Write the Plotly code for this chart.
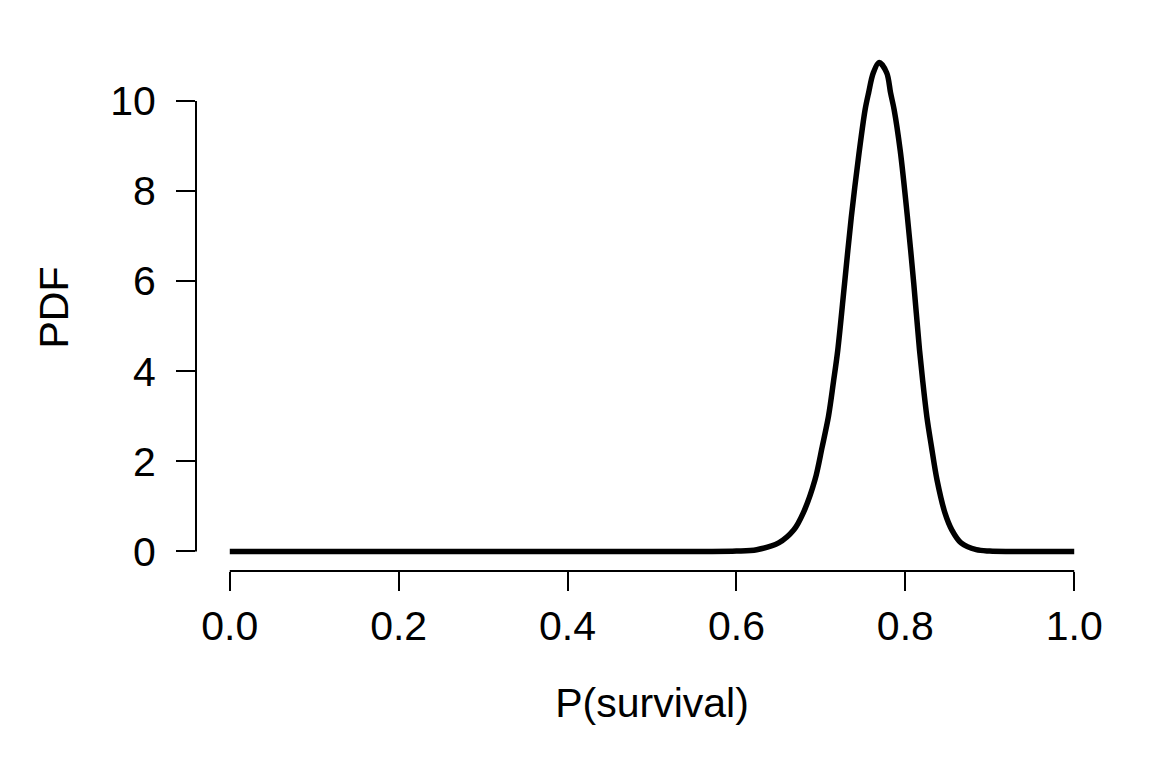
import plotly.graph_objects as go

# points
p_survival = [0.0, 0.2, 0.4, 0.5, 0.57, 0.60, 0.624, 0.650, 0.668, 0.679, 0.693, 0.7015, 0.709,
              0.715, 0.720, 0.728, 0.736, 0.7455, 0.7524, 0.7565, 0.762, 0.769,
              0.778, 0.7825, 0.7867, 0.794, 0.8025, 0.810, 0.8168, 0.8205, 0.8255,
              0.831, 0.8375, 0.847, 0.855, 0.866, 0.884, 0.90, 0.92, 0.96, 1.0]
pdf = [0.0, 0.0, 0.0, 0.0, 0.0, 0.01, 0.04, 0.19, 0.48, 0.85, 1.59, 2.32, 3.00,
       3.78, 4.47, 5.94, 7.42, 8.89, 9.81, 10.18, 10.62, 10.85,
       10.62, 10.18, 9.81, 8.89, 7.42, 5.94, 4.47, 3.80, 2.99,
       2.32, 1.59, 0.85, 0.48, 0.19, 0.04, 0.01, 0.0, 0.0, 0.0]

x_ticks = [0.0, 0.2, 0.4, 0.6, 0.8, 1.0]
x_labels = ["0.0", "0.2", "0.4", "0.6", "0.8", "1.0"]
y_ticks = [0, 2, 4, 6, 8, 10]

font = dict(family="Liberation Sans, Arial, sans-serif", size=41, color="black")

fig = go.Figure()
fig.add_trace(go.Scatter(x=p_survival, y=pdf, mode="lines",
                         line=dict(color="black", width=5.5, shape="spline", smoothing=0.9),
                         showlegend=False, hoverinfo="skip"))

# R style axes: line only across the tick range
fig.add_shape(type="line", xref="x", yref="paper", x0=x_ticks[0], x1=x_ticks[-1], y0=0, y1=0,
              line=dict(color="black", width=2))
fig.add_shape(type="line", xref="paper", yref="y", x0=0, x1=0, y0=y_ticks[0], y1=y_ticks[-1],
              line=dict(color="black", width=2))

fig.update_layout(
    width=1152, height=768, autosize=False,
    margin=dict(l=188, r=52, t=36, b=205),
    paper_bgcolor="white", plot_bgcolor="white",
    font=font,
    xaxis=dict(range=[-0.04, 1.04], tickvals=x_ticks, ticktext=x_labels,
               ticks="outside", ticklen=19, tickwidth=2, tickcolor="black",
               showline=False, showgrid=False, zeroline=False,
               ticklabelstandoff=0,
               title=dict(text="P(survival)", standoff=40, font=font)),
    yaxis=dict(range=[-0.4332, 11.2632], tickvals=y_ticks,
               ticks="outside", ticklen=19, tickwidth=2, tickcolor="black",
               showline=False, showgrid=False, zeroline=False,
               ticklabelstandoff=12,
               title=dict(text="PDF", standoff=28, font=font)),
)

fig.write_html("out.html")
